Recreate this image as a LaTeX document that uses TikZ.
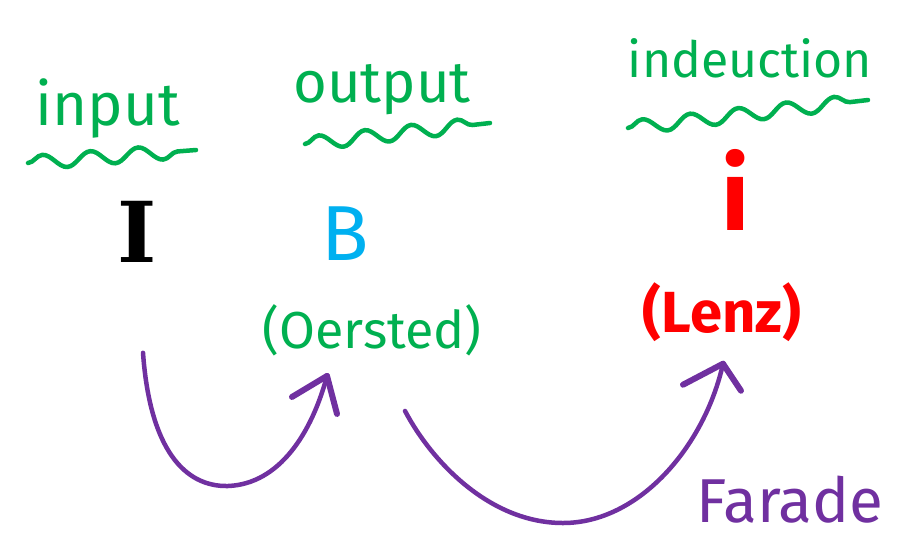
\documentclass[tikz,border=0pt]{standalone}
\usepackage{fontspec}
\setmainfont{Fira Sans}
\newfontfamily\serifbold{DejaVu Serif}
\usetikzlibrary{decorations.pathmorphing,calc}
\definecolor{inkgreen}{HTML}{00B050}
\definecolor{inkpurple}{HTML}{7030A0}
\definecolor{inkcyan}{HTML}{00B0F0}
\definecolor{inkred}{HTML}{FF0000}
\tikzset{
  word/.style={inner sep=0pt, text=inkgreen},
  wave/.style={draw=inkgreen, line width=4.5pt, line cap=round,
    decorate, decoration={snake, segment length=#1, amplitude=7pt}},
  arc/.style={draw=inkpurple, line width=4.5pt, line cap=round, line join=round},
  tipline/.style={draw=inkpurple, line width=6pt, line cap=round}
}
\begin{document}
\begin{tikzpicture}[x=1pt,y=-1pt]
  \useasboundingbox[fill=white] (0,0) rectangle (897,547);

  % headings with wavy underlines
  \node[word, font=\fontsize{60}{60}\selectfont] (input) at (108,108) {input};
  \node[word, font=\fontsize{58}{58}\selectfont] (output) at (382,90) {output};
  \node[word, font=\fontsize{50}{50}\selectfont] (induction) at (750,58) {indeuction};
  \draw[wave=48pt] (28,163) -- (196,150);
  \draw[wave=46.5pt] (305,144) -- (490,123);
  \draw[wave=48.3pt] (628,128) -- (868,100);

  % quantities
  \node[inner sep=0pt, font=\serifbold\bfseries\fontsize{84}{84}\selectfont] (I) at (137,232) {I};
  \node[inner sep=0pt, text=inkcyan, font=\fontsize{78}{78}\selectfont] (B) at (345,234) {B};
  \node[inner sep=0pt, text=inkred, font=\bfseries\fontsize{100}{100}\selectfont] (i) at (736,190) {i};

  % names
  \node[word, font=\fontsize{52}{52}\selectfont] (oersted) at (372,330) {(Oersted)};
  \node[inner sep=0pt, text=inkred, font=\bfseries\fontsize{58}{58}\selectfont] (lenz) at (722,312) {(Lenz)};
  \node[inner sep=0pt, text=inkpurple, font=\fontsize{62}{62}\selectfont] (farade) at (790,500) {Farade};

  % arc from I round to Oersted
  \coordinate (s1) at ($(I.south)+(6,90)$);
  \coordinate (t1) at ($(oersted.south)+(-45,20)$);
  \path[arc] (s1) .. controls (150,450) and (185,487) .. (228,486)
    .. controls (280,484) and (312,432) .. (t1);
  \draw[tipline] (t1) -- ++(-35,21);
  \draw[tipline] (t1) -- ++(10,38);

  % arc from Oersted round to Lenz
  \coordinate (s2) at ($(oersted.south)+(33,55)$);
  \coordinate (t2) at ($(lenz.south)+(1,22)$);
  \path[arc] (s2) .. controls (432,462) and (490,523) .. (563,523)
    .. controls (640,523) and (705,445) .. (t2);
  \draw[tipline] (t2) -- ++(-40,21);
  \draw[tipline] (t2) -- ++(18,27);
\end{tikzpicture}
\end{document}
